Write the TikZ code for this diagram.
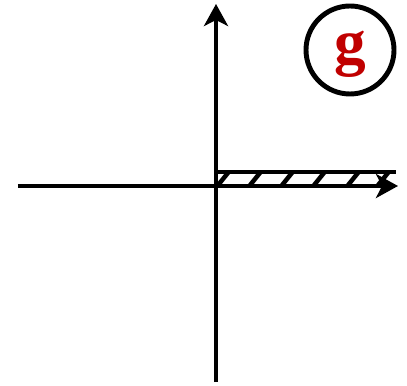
\documentclass[tikz,border=0pt]{standalone}
\usepackage{fontspec}
\setmainfont{Liberation Serif}
\usetikzlibrary{arrows.meta, positioning}

\definecolor{tagred}{RGB}{192,0,0}

\begin{document}
\begin{tikzpicture}[
    axis/.style={line width=3.5pt, -{Stealth[length=0.55cm, width=0.6cm, inset=0.15cm]}},
    edge/.style={line width=3.5pt},
    hatchmark/.style={line width=3.2pt},
    tag/.style={draw, circle, line width=3.5pt, minimum size=2.2cm, inner sep=0pt,
                text=tagred, font=\fontsize{45}{45}\selectfont\bfseries}
]
    \useasboundingbox (-5.4,-4.975) rectangle (4.775,4.65);

    % Axes
    \coordinate (origin) at (0,0);
    \coordinate (xstart) at (-4.95,0);
    \coordinate (xend) at (4.55,0);
    \coordinate (ystart) at (0,-4.9);
    \coordinate (yend) at (0,4.55);
    \draw[axis] (xstart) -- (xend);
    \draw[axis] (ystart) -- (yend);

    % Hatched strip
    \coordinate (stripleft) at (0,0.35);
    \coordinate (stripright) at (4.5,0.35);
    \draw[edge] (stripleft) -- (stripright);
    \foreach \x in {0.05,0.85,1.65,2.45,3.3,4.05}
        \draw[hatchmark] (\x,0.02) -- ++(0.25,0.31);

    % Label
    \node[tag] (tag) at (3.35,3.4) {\raisebox{-0.34cm}[0pt][0pt]{g}};

\end{tikzpicture}
\end{document}
